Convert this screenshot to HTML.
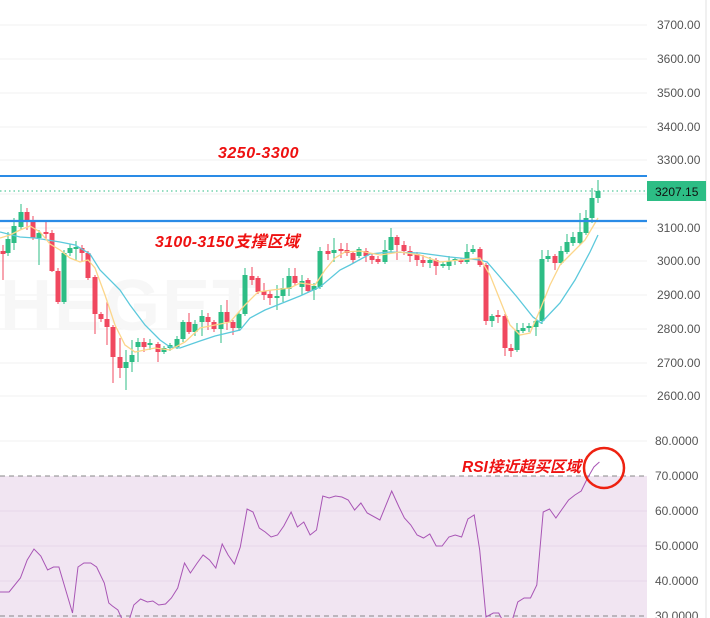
<!DOCTYPE html>
<html><head><meta charset="utf-8"><style>
html,body{margin:0;padding:0;background:#fff;width:710px;height:618px;overflow:hidden}
svg{display:block}
text{font-family:"Liberation Sans","Noto Sans CJK SC",sans-serif}
</style></head><body>
<svg id="s" width="710" height="618" xmlns="http://www.w3.org/2000/svg">
<rect width="710" height="618" fill="#fff"/>
<g id="grid" stroke="#f0f0f0" stroke-width="1"></g>
<text x="0" y="330" font-size="72" font-weight="bold" fill="#f7f7f7" letter-spacing="2">HEGET</text>
<rect x="0" y="476" width="647" height="142" fill="#f1e5f2"/>
<g id="rsigrid" stroke="#e8d8ea" stroke-width="1"></g>
<line x1="0" y1="476" x2="647" y2="476" stroke="#888" stroke-dasharray="5,4"/>
<line x1="0" y1="616" x2="647" y2="616" stroke="#888" stroke-dasharray="5,4"/>
<line x1="706" y1="0" x2="706" y2="618" stroke="#e0e0e0"/>
<g id="cd"></g>
<polyline id="cy" fill="none" stroke="#5cc9dc" stroke-width="1.3"/>
<polyline id="ye" fill="none" stroke="#fcd68a" stroke-width="1.3"/>
<line x1="0" y1="176" x2="647" y2="176" stroke="#2a8be6" stroke-width="2"/>
<line x1="0" y1="221" x2="647" y2="221" stroke="#2a8be6" stroke-width="2.2"/>
<line x1="0" y1="191" x2="647" y2="191" stroke="#2dbd85" stroke-dasharray="1.5,3"/>
<polyline id="rsi" fill="none" stroke="#a855b5" stroke-width="1"/>
<g font-size="12" fill="#555">
<text x="657" y="29">3700.00</text><text x="657" y="63">3600.00</text><text x="657" y="97">3500.00</text>
<text x="657" y="131">3400.00</text><text x="657" y="164">3300.00</text>
<text x="657" y="232">3100.00</text><text x="657" y="265">3000.00</text><text x="657" y="299">2900.00</text>
<text x="657" y="333">2800.00</text><text x="657" y="367">2700.00</text><text x="657" y="400">2600.00</text>
<text x="655" y="445">80.0000</text><text x="655" y="480">70.0000</text><text x="655" y="515">60.0000</text>
<text x="655" y="550">50.0000</text><text x="655" y="585">40.0000</text><text x="655" y="620">30.0000</text>
</g>
<rect x="647" y="181" width="59" height="20" fill="#2dbd85"/>
<text x="655" y="196" font-size="12" fill="#111">3207.15</text>
<g font-weight="bold" font-style="italic" fill="#ee1111">
<text x="218" y="158" font-size="16" letter-spacing="0.5">3250-3300</text>
<text x="155" y="247" font-size="16" letter-spacing="0.3">3100-3150支撑区域</text>
<text x="462" y="472" font-size="15.5" letter-spacing="0">RSI接近超买区域</text>
</g>
<circle cx="604" cy="468" r="20" fill="none" stroke="#ee2211" stroke-width="2.5"/>
</svg>
<script>
var NS="http://www.w3.org/2000/svg";
function el(p,t,a){var e=document.createElementNS(NS,t);for(var k in a)e.setAttribute(k,a[k]);document.getElementById(p).appendChild(e);}
[25,59,93,127,160,194,228,261,295,329,363,396].forEach(function(y){el("grid","line",{x1:0,x2:647,y1:y,y2:y});});
el("grid","line",{x1:0,x2:647,y1:441,y2:441});
[511,546,581].forEach(function(y){el("rsigrid","line",{x1:0,x2:647,y1:y,y2:y});});
var C=[[3,251,254,245,280,0],[8,239,253,232,256,1],[14,226,243,218,250,1],[21,212,227,204,230,1],[27,212,220,208,230,0],[33,220,238,216,240,0],[39,233,238,230,265,1],[46,232,234,222,240,0],[52,233,271,230,272,0],[58,271,302,268,304,0],[64,253,302,250,304,1],[70,248,253,244,256,1],[76,247,249,241,260,1],[82,248,253,245,262,0],[88,253,278,251,280,0],[95,277,314,275,334,0],[101,314,319,312,322,0],[107,319,327,300,345,0],[113,327,357,325,383,0],[120,357,368,338,378,0],[126,362,368,350,390,1],[132,355,362,340,372,1],[138,342,347,338,362,1],[144,342,347,338,352,0],[150,343,345,339,350,1],[158,344,352,342,362,0],[164,348,352,346,354,1],[170,345,348,343,351,1],[177,339,347,336,349,1],[183,322,339,320,342,1],[189,322,332,313,334,0],[195,324,332,320,336,1],[202,316,322,310,336,1],[208,317,322,313,330,0],[214,322,329,320,332,0],[221,312,329,305,343,1],[227,312,322,300,330,0],[233,322,328,320,335,0],[239,314,328,312,331,1],[245,275,314,268,316,1],[252,276,280,267,285,0],[258,278,292,276,294,0],[264,291,295,283,300,0],[270,294,298,290,305,0],[277,296,298,285,310,1],[283,288,296,278,302,1],[289,276,289,268,296,1],[295,276,283,268,285,0],[302,281,287,275,295,1],[308,280,291,278,293,0],[314,286,290,283,300,1],[320,251,287,247,289,1],[328,251,254,244,260,0],[334,250,253,238,262,1],[341,249,251,243,258,0],[347,250,253,243,256,0],[353,253,260,251,263,0],[359,249,256,247,258,1],[366,251,256,248,262,0],[372,256,260,253,264,0],[378,259,262,256,264,0],[385,250,262,240,264,1],[391,237,250,228,252,1],[397,237,245,235,260,0],[404,245,251,241,255,0],[410,251,256,246,262,0],[417,254,260,252,266,0],[423,260,263,255,267,0],[430,260,263,257,268,1],[436,260,266,258,275,0],[443,264,266,262,268,1],[449,261,266,256,270,1],[455,259,261,257,265,1],[461,260,262,258,264,0],[467,252,262,244,264,1],[473,249,252,245,254,1],[480,249,265,247,267,0],[486,265,321,263,325,0],[492,316,321,314,327,1],[498,315,317,310,323,0],[505,316,348,314,356,0],[511,348,351,344,357,0],[517,330,350,323,352,1],[523,328,331,323,333,1],[529,326,328,323,332,1],[536,321,327,318,336,1],[542,259,321,250,324,1],[548,256,259,250,262,1],[555,256,263,254,270,0],[561,251,263,246,265,1],[567,242,252,234,254,1],[573,237,243,232,246,1],[580,232,243,213,245,1],[586,218,233,210,235,1],[592,198,218,188,223,1],[598,191,198,180,203,1]];
C.forEach(function(c){var col=c[5]?"#2dbd85":"#f0485f";
el("cd","line",{x1:c[0],x2:c[0],y1:c[3],y2:c[4],stroke:col,"stroke-width":1});
el("cd","rect",{x:c[0]-2.5,y:c[1],width:5,height:Math.max(1,c[2]-c[1]),fill:col});});
document.getElementById("cy").setAttribute("points","0,232 20,237 35,238 60,242 75,245 90,254 100,270 120,290 130,305 145,325 160,340 170,347 180,348 200,341 215,336 240,330 250,318 265,310 280,304 300,296 320,287 340,270 350,265 370,254 390,252 420,253 450,257 480,260 487,262 500,277 517,297 533,317 541,323 560,303 575,280 590,252 598,235");
document.getElementById("ye").setAttribute("points","0,238 10,235 20,230 30,226 40,232 50,244 60,250 70,258 80,262 88,260 95,268 105,295 115,325 125,345 135,352 145,350 155,348 170,350 185,342 200,328 215,325 230,322 245,305 258,292 272,290 290,288 300,283 315,285 325,270 335,258 345,252 360,251 380,255 400,252 420,255 440,262 460,260 480,258 490,275 500,300 510,325 520,335 530,333 540,310 550,285 560,265 570,255 585,240 598,218");
var R=[[0,592],[20,592],[45,578],[60,560],[75,549],[90,556],[105,570],[118,567],[130,567],[145,590],[160,613],[172,567],[185,563],[200,563],[213,567],[230,583],[240,603],[248,606],[260,610],[270,620],[285,620],[295,605],[310,599],[325,602],[337,601],[350,605],[365,604],[378,598],[392,588],[407,563],[420,573],[435,563],[448,555],[462,560],[476,568],[490,544],[503,555],[517,564],[530,547],[545,509],[558,512],[572,528],[585,532],[598,537],[612,535],[626,526],[642,512],[656,527],[670,522],[684,535],[698,530],[712,496],[726,498],[740,496],[754,497],[768,500],[782,510],[796,503],[810,513],[838,520],[864,491],[880,507],[892,518],[906,525],[920,535],[934,538],[948,534],[962,546],[975,546],[990,537],[1004,535],[1018,537],[1032,519],[1046,515],[1058,550],[1072,617],[1088,613],[1100,613],[1108,620],[1130,620],[1142,602],[1156,598],[1170,598],[1184,585],[1198,512],[1212,509],[1226,518],[1240,509],[1254,500],[1268,495],[1282,491],[1296,478],[1310,467],[1322,462]];
document.getElementById("rsi").setAttribute("points",R.map(function(p){return (p[0]/2.2056).toFixed(1)+","+p[1];}).join(" "));
</script>
</body></html>
